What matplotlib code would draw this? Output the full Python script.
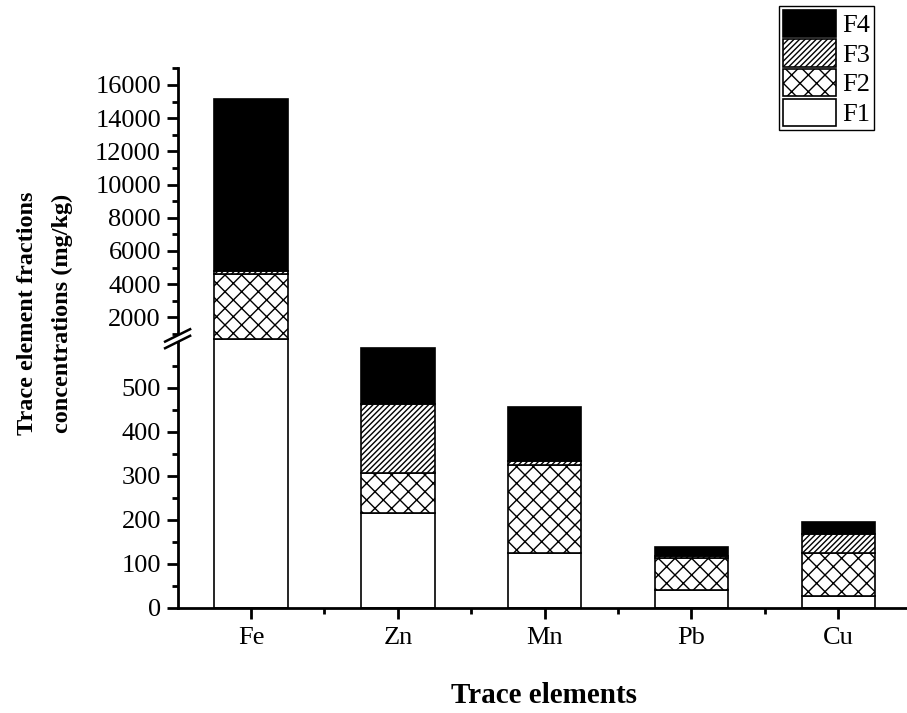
import matplotlib
matplotlib.use("Agg")
import matplotlib.pyplot as plt
import numpy as np
from matplotlib.lines import Line2D
from matplotlib.patches import Polygon
from matplotlib.ticker import FixedLocator, FuncFormatter
from matplotlib.transforms import IdentityTransform

plt.rcParams["font.family"] = ["Liberation Serif", "DejaVu Serif"]
plt.rcParams["hatch.linewidth"] = 1.0

elements = ["Fe", "Zn", "Mn", "Pb", "Cu"]
f1 = [800, 215, 124, 40, 26]
f2 = [3790, 90, 199, 73, 99]
f3 = [220, 157, 10, 5, 43]
f4 = [10350, 128, 123, 19, 27]

# broken axis: 0-600 and 1000-17000 share one axis through a piecewise scale
break_vals = [0, 600, 1000, 17000]
break_pix = [0, 264, 273.6, 539.1]


def forward(y):
    return np.interp(y, break_vals, break_pix)


def inverse(v):
    return np.interp(v, break_pix, break_vals)


fig = plt.figure(figsize=(9.07, 7.13), dpi=100)
W, H = 907, 713
ax = fig.add_axes([177.6 / W, 1 - 607.5 / H, (911.7 - 177.6) / W, (607.5 - 68.4) / H])
ax.set_yscale("function", functions=(forward, inverse))

x = np.arange(1, len(elements) + 1)
width = 0.5
b1 = np.array(f1)
b2 = b1 + np.array(f2)
b3 = b2 + np.array(f3)

bar_kw = dict(width=width, edgecolor="black", linewidth=1.2)
h1 = ax.bar(x, f1, color="white", label="F1", **bar_kw)
h2 = ax.bar(x, f2, bottom=b1, color="white", hatch="xx", label="F2", **bar_kw)
h3 = ax.bar(x, f3, bottom=b2, color="white", hatch="//////", label="F3", **bar_kw)
h4 = ax.bar(x, f4, bottom=b3, color="black", label="F4", **bar_kw)

ax.set_xlim(0.5, 5.5)
ax.set_ylim(0, 17000)

major_y = list(range(0, 600, 100)) + list(range(2000, 17000, 2000))
minor_y = list(range(50, 600, 100)) + list(range(1000, 18000, 2000))
ax.yaxis.set_major_locator(FixedLocator(major_y))
ax.yaxis.set_minor_locator(FixedLocator(minor_y))
ax.yaxis.set_major_formatter(FuncFormatter(lambda v, p: f"{int(round(v))}"))

ax.set_xticks(x)
ax.set_xticklabels(elements)
ax.xaxis.set_minor_locator(FixedLocator(x + 0.5))

ax.tick_params(which="major", direction="out", length=8, width=2, labelsize=19, pad=4)
ax.tick_params(axis="x", which="major", pad=6)
ax.tick_params(which="minor", direction="out", length=4.5, width=2)

for side in ("top", "right"):
    ax.spines[side].set_visible(False)
for side in ("left", "bottom"):
    ax.spines[side].set_linewidth(2)

# break marks over the left spine
fig.canvas.draw()
cx = ax.transAxes.transform((0, 0))[0]
cy = ax.transData.transform((1, 800))[1]
dx, dy, gap = 12.5, 6.2, 3.3
fig.add_artist(Polygon(
    [(cx - dx, cy - dy - gap), (cx + dx, cy + dy - gap),
     (cx + dx, cy + dy + gap), (cx - dx, cy - dy + gap)],
    closed=True, facecolor="white", edgecolor="none",
    transform=IdentityTransform(), zorder=5))
for off in (-gap, gap):
    fig.add_artist(Line2D([cx - dx, cx + dx], [cy - dy + off, cy + dy + off],
                          color="black", linewidth=1.8,
                          transform=IdentityTransform(), zorder=6))

fig.text(45 / W, 1 - 313 / H, "Trace element fractions\nconcentrations (mg/kg)",
         rotation=90, ha="center", va="center", multialignment="center",
         fontsize=17.5, fontweight="bold", linespacing=1.8)
fig.text(544 / W, 1 - 703 / H, "Trace elements", ha="center", va="baseline",
         fontsize=21, fontweight="bold")

leg = fig.legend(handles=[h4, h3, h2, h1], labels=["F4", "F3", "F2", "F1"],
                 loc="upper left", bbox_to_anchor=(779 / W, 1 - 6 / H),
                 fontsize=19, frameon=True, fancybox=False, framealpha=1,
                 edgecolor="black", borderpad=0.15, labelspacing=0.08,
                 handlelength=2.0, handleheight=1.2, handletextpad=0.25,
                 borderaxespad=0)
leg.get_frame().set_linewidth(1.0)

fig.savefig("out.png", dpi=100)
